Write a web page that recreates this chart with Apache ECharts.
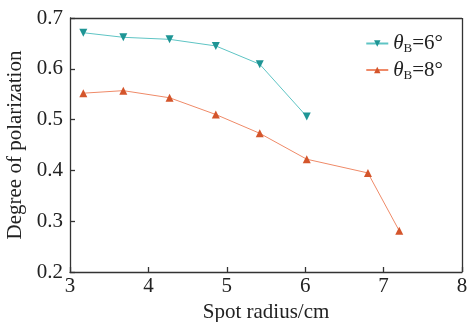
<!DOCTYPE html>
<html><head><meta charset="utf-8">
<script src="https://cdn.jsdelivr.net/npm/echarts@6/dist/echarts.min.js"></script>
<style>html,body{margin:0;padding:0;background:#fff}#c{width:468px;height:322px}</style>
</head><body><div id="c"></div>
<script>
const xTicks = [3, 4, 5, 6, 7, 8];
const yTicks = [0.2, 0.3, 0.4, 0.5, 0.6, 0.7];
const radius6 = [3.17, 3.68, 4.27, 4.86, 5.42, 6.02];
const pol6 = [0.671, 0.662, 0.658, 0.645, 0.609, 0.506];
const radius8 = [3.17, 3.68, 4.27, 4.86, 5.42, 6.02, 6.80, 7.20];
const pol8 = [0.552, 0.557, 0.543, 0.510, 0.473, 0.422, 0.395, 0.281];
const seriesNames = ['θB=6°', 'θB=8°'];

const chart = echarts.init(document.getElementById('c'));
const font = 'Liberation Serif';
const axisLineStyle = {color: '#333', width: 1.3};
chart.setOption({
  animation: false,
  textStyle: {fontFamily: font},
  grid: {left: 70, right: 6, top: 18, bottom: 50, containLabel: false, outerBoundsMode: 'none'},
  legend: {
    right: 20, top: 28, orient: 'vertical', itemGap: 4, itemWidth: 22, itemHeight: 8,
    data: seriesNames,
    formatter: function (n) { return n === seriesNames[0] ? '{i|θ}{s|B}{t|=6°}' : '{i|θ}{s|B}{t|=8°}'; },
    textStyle: {
      fontFamily: font, color: '#222',
      rich: {
        i: {fontFamily: font, fontStyle: 'italic', fontSize: 21, color: '#222'},
        s: {fontFamily: font, fontSize: 13, color: '#222', verticalAlign: 'bottom', padding: [11, 0, 0, 0]},
        t: {fontFamily: font, fontSize: 21, color: '#222'}
      }
    }
  },
  xAxis: {
    type: 'value', min: 3, max: 8, interval: 1,
    name: 'Spot radius/cm', nameLocation: 'middle', nameGap: 28,
    nameTextStyle: {fontFamily: font, fontSize: 21, color: '#222'},
    axisLine: {onZero: false, lineStyle: axisLineStyle},
    axisTick: {inside: true, length: 5, lineStyle: axisLineStyle},
    axisLabel: {fontFamily: font, fontSize: 21, color: '#222', margin: 4,
      formatter: v => xTicks.includes(v) ? String(v) : ''},
    splitLine: {show: false}
  },
  yAxis: {
    type: 'value', min: 0.2, max: 0.7, interval: 0.1,
    name: 'Degree of polarization', nameLocation: 'middle', nameGap: 44,
    nameTextStyle: {fontFamily: font, fontSize: 21, color: '#222'},
    axisLine: {onZero: false, lineStyle: axisLineStyle},
    axisTick: {inside: true, length: 5, lineStyle: axisLineStyle},
    axisLabel: {fontFamily: font, fontSize: 21, color: '#222', margin: 7,
      formatter: v => { const r = Math.round(v * 10) / 10; return yTicks.includes(r) ? r.toFixed(1) : ''; }},
    splitLine: {show: false}
  },
  series: [
    {
      name: seriesNames[0], type: 'line',
      data: radius6.map((x, i) => [x, pol6[i]]),
      symbol: 'triangle', symbolRotate: 180, symbolSize: 8,
      lineStyle: {color: '#5ec4c4', width: 1},
      itemStyle: {color: '#1e9595'}
    },
    {
      name: seriesNames[1], type: 'line',
      data: radius8.map((x, i) => [x, pol8[i]]),
      symbol: 'triangle', symbolSize: 8,
      lineStyle: {color: '#ef8a68', width: 1},
      itemStyle: {color: '#d4552b'}
    },
    {
      type: 'line', data: [], silent: true,
      markLine: {
        silent: true, symbol: 'none', label: {show: false},
        lineStyle: {color: '#333', width: 1.3, type: 'solid'},
        data: [
          [{coord: [3, 0.7]}, {coord: [8, 0.7]}],
          [{coord: [8, 0.2]}, {coord: [8, 0.7]}]
        ]
      }
    }
  ]
});
</script></body></html>
